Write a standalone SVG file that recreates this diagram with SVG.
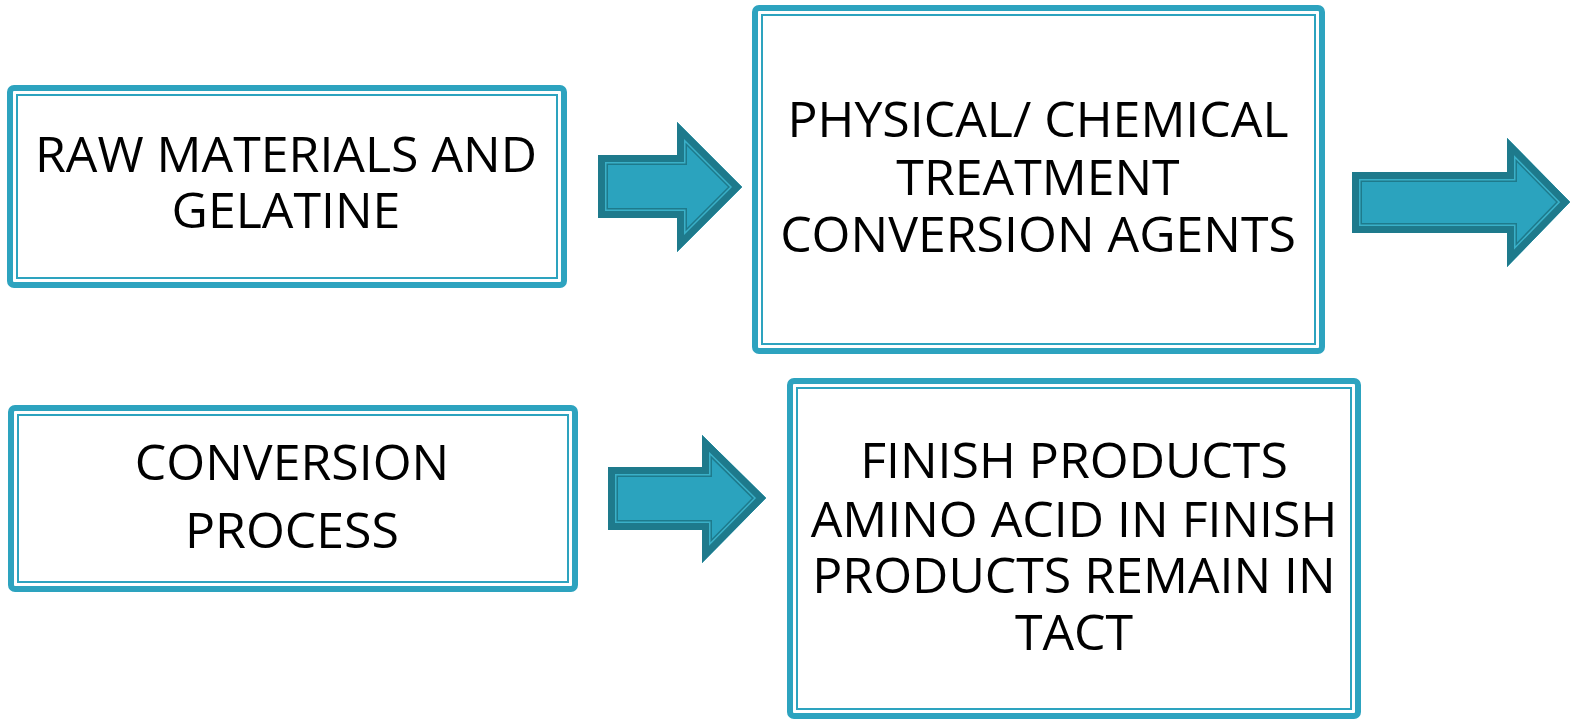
<svg xmlns="http://www.w3.org/2000/svg" xmlns:xlink="http://www.w3.org/1999/xlink" width="1571" height="720" viewBox="0 0 1571 720">
<style>
.outer{fill:#ffffff;stroke:#2DA3BF;stroke-width:6}
.inner{fill:none;stroke:#2DA3BF;stroke-width:2}
.t{font-family:"Open Sans","Noto Sans",sans-serif;font-size:50px;fill:#000;text-anchor:middle}
.af{fill:#2BA3BE}
.s1{fill:none;stroke:#1E7A8C;stroke-width:20;stroke-linejoin:miter;stroke-miterlimit:10}
.s2{fill:none;stroke:#3AB0C8;stroke-width:17;stroke-linejoin:miter;stroke-miterlimit:10}
.s3{fill:none;stroke:#1E7A8C;stroke-width:14;stroke-linejoin:miter;stroke-miterlimit:10}
</style>
<defs>
<polygon id="a1" points="598,155 677,155 677,122 742,187 677,252 677,218 598,218"/>
<polygon id="a2" points="1352,172 1507,172 1507,138 1570,202 1507,267 1507,233 1352,233"/>
<polygon id="a3" points="608,467 702,467 702,435 766,498 702,563 702,530 608,530"/>
<clipPath id="c1"><use xlink:href="#a1"/></clipPath>
<clipPath id="c2"><use xlink:href="#a2"/></clipPath>
<clipPath id="c3"><use xlink:href="#a3"/></clipPath>
</defs>
<g id="node-raw">
<rect class="outer" x="10" y="88" width="554" height="197" rx="4"/>
<rect class="inner" x="17" y="95" width="540" height="183"/>
<text class="t" x="286" y="172">RAW MATERIALS AND</text>
<text class="t" x="286" y="228">GELATINE</text>
</g>
<g id="node-treatment">
<rect class="outer" x="755" y="8" width="567" height="343" rx="4"/>
<rect class="inner" x="762" y="15" width="553" height="329"/>
<text class="t" x="1038" y="137">PHYSICAL/ CHEMICAL</text>
<text class="t" x="1038" y="195">TREATMENT</text>
<text class="t" x="1038" y="252">CONVERSION AGENTS</text>
</g>
<g id="node-conversion">
<rect class="outer" x="11" y="408" width="564" height="181" rx="4"/>
<rect class="inner" x="18" y="415" width="550" height="167"/>
<text class="t" x="292" y="480">CONVERSION</text>
<text class="t" x="292" y="548">PROCESS</text>
</g>
<g id="node-finish">
<rect class="outer" x="790" y="381" width="568" height="335" rx="4"/>
<rect class="inner" x="797" y="388" width="554" height="321"/>
<text class="t" x="1074" y="478">FINISH PRODUCTS</text>
<text class="t" x="1074" y="537">AMINO ACID IN FINISH</text>
<text class="t" x="1074" y="593">PRODUCTS REMAIN IN</text>
<text class="t" x="1074" y="650">TACT</text>
</g>
<g id="connectors">
<g clip-path="url(#c1)">
<use xlink:href="#a1" class="af"/>
<use xlink:href="#a1" class="s1"/>
<use xlink:href="#a1" class="s2"/>
<use xlink:href="#a1" class="s3"/>
</g>
<g clip-path="url(#c2)">
<use xlink:href="#a2" class="af"/>
<use xlink:href="#a2" class="s1"/>
<use xlink:href="#a2" class="s2"/>
<use xlink:href="#a2" class="s3"/>
</g>
<g clip-path="url(#c3)">
<use xlink:href="#a3" class="af"/>
<use xlink:href="#a3" class="s1"/>
<use xlink:href="#a3" class="s2"/>
<use xlink:href="#a3" class="s3"/>
</g>
</g>
</svg>
